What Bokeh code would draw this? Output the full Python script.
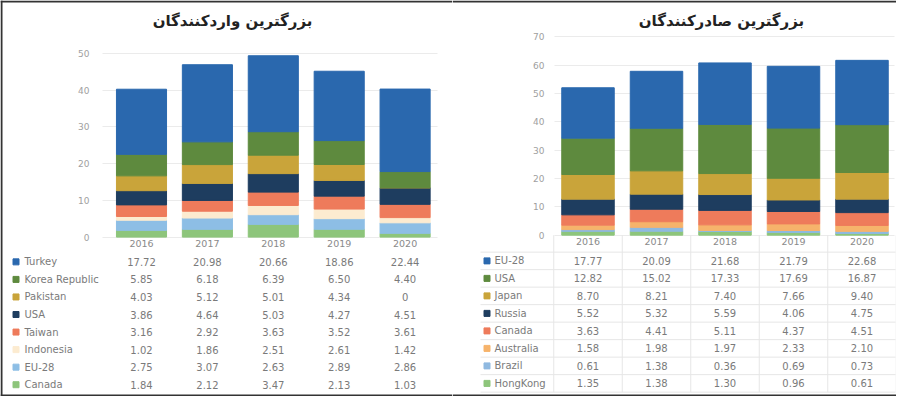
from bokeh.plotting import figure
from bokeh.models import Range1d, LinearAxis, FixedTicker, Grid, ColumnDataSource, Span
from bokeh.layouts import row
from bokeh.core.properties import value
from bokeh.embed import file_html
from bokeh.resources import INLINE

# ---------------- data ----------------
years = ["2016", "2017", "2018", "2019", "2020"]

imp_title = "بزرگترین واردکنندگان"
imp_names = ["Turkey", "Korea Republic", "Pakistan", "USA", "Taiwan", "Indonesia", "EU-28", "Canada"]
imp_turkey = [17.72, 20.98, 20.66, 18.86, 22.44]
imp_korea = [5.85, 6.18, 6.39, 6.50, 4.40]
imp_pakistan = [4.03, 5.12, 5.01, 4.34, 0]
imp_usa = [3.86, 4.64, 5.03, 4.27, 4.51]
imp_taiwan = [3.16, 2.92, 3.63, 3.52, 3.61]
imp_indonesia = [1.02, 1.86, 2.51, 2.61, 1.42]
imp_eu28 = [2.75, 3.07, 2.63, 2.89, 2.86]
imp_canada = [1.84, 2.12, 3.47, 2.13, 1.03]
imp_yticks = [0, 10, 20, 30, 40, 50]

exp_title = "بزرگترین صادرکنندگان"
exp_names = ["EU-28", "USA", "Japan", "Russia", "Canada", "Australia", "Brazil", "HongKong"]
exp_eu28 = [17.77, 20.09, 21.68, 21.79, 22.68]
exp_usa = [12.82, 15.02, 17.33, 17.69, 16.87]
exp_japan = [8.70, 8.21, 7.40, 7.66, 9.40]
exp_russia = [5.52, 5.32, 5.59, 4.06, 4.75]
exp_canada = [3.63, 4.41, 5.11, 4.37, 4.51]
exp_australia = [1.58, 1.98, 1.97, 2.33, 2.10]
exp_brazil = [0.61, 1.38, 0.36, 0.69, 0.73]
exp_hongkong = [1.35, 1.38, 1.30, 0.96, 0.61]
exp_yticks = [0, 10, 20, 30, 40, 50, 60, 70]

imp_series = [imp_turkey, imp_korea, imp_pakistan, imp_usa, imp_taiwan, imp_indonesia, imp_eu28, imp_canada]
exp_series = [exp_eu28, exp_usa, exp_japan, exp_russia, exp_canada, exp_australia, exp_brazil, exp_hongkong]

# ---------------- style ----------------
imp_colors = ["#2A68AE", "#5E8A3E", "#C9A43A", "#1E3D5F", "#EE7B5B", "#FCEBD0", "#8DBEE5", "#8DC57B"]
exp_colors = ["#2A68AE", "#5E8A3E", "#C9A43A", "#1E3D5F", "#EE7B5B", "#F6B36B", "#8FB9E0", "#8DC57B"]

FONT = "DejaVu Sans"
PAGE_TOP = 8
H = 396
SY = H / 405.0


def Y(ry):
    return PAGE_TOP + (ry - 6) * SY


def fmt(v):
    return "0" if v == 0 else "%.2f" % v


def panel(title, names, series, yticks, colors, cfg):
    left, width = cfg["left"], cfg["width"]
    xc0, dx = cfg["xc0"], cfg["dx"]
    y0 = Y(cfg["zero"])
    k = (cfg["zero"] - cfg["top_y"]) / yticks[-1] * SY

    def dxp(px):
        return (px - xc0) / dx

    def dyp(py):
        return (y0 - py) / k

    p = figure(width=width, height=H,
               x_range=Range1d(dxp(left), dxp(left + width)),
               y_range=Range1d(dyp(PAGE_TOP + H), dyp(PAGE_TOP)),
               x_axis_type=None, y_axis_type=None,
               toolbar_location=None, output_backend="svg",
               min_border=0, outline_line_color=None,
               background_fill_color="white", border_fill_color="white")

    # grid lines
    gx0, gx1 = dxp(cfg["grid_x0"]), dxp(cfg["grid_x1"])
    if "cross_bounds" in Grid.properties():
        g = Grid(dimension=1, ticker=FixedTicker(ticks=yticks), cross_bounds=(gx0, gx1),
                 grid_line_color="#ebebeb", grid_line_width=1)
        p.add_layout(g)
    else:
        p.segment(x0=[gx0] * len(yticks), x1=[gx1] * len(yticks), y0=yticks, y1=yticks,
                  line_color="#ebebeb", line_width=1, level="underlay")

    # table grid (right panel only)
    if cfg.get("table_lines"):
        nrow = len(names)
        hy = [dyp(Y(cfg["row0"] - cfg["rowstep"] / 2 + cfg["rowstep"] * i)) for i in range(nrow + 1)]
        p.segment(x0=[dxp(cfg["tab_x0"])] * len(hy), x1=[dxp(cfg["tab_x1"])] * len(hy), y0=hy, y1=hy,
                  line_color="#e6e6e6", line_width=1)
        vx = [j - 0.5 for j in range(len(years) + 1)]
        p.segment(x0=vx, x1=vx, y0=[dyp(Y(cfg["zero"]))] * len(vx), y1=[hy[-1]] * len(vx),
                  line_color="#e6e6e6", line_width=1)

    # bars
    data = {"x": list(range(len(years)))}
    for n, s in zip(names, series):
        data[n] = s
    src = ColumnDataSource(data)
    p.vbar_stack(names[::-1], x="x", width=cfg["bw"], color=colors[::-1], source=src)

    # y axis
    ya = LinearAxis(fixed_location=dxp(cfg["ylab_x"]), ticker=FixedTicker(ticks=yticks),
                    axis_line_color=None, major_tick_line_color=None, minor_tick_line_color=None,
                    major_tick_out=0, major_tick_in=0, major_label_standoff=3,
                    major_label_text_font_size="9px", major_label_text_color="#a0a0a0",
                    major_label_text_font=FONT)
    p.add_layout(ya, "left")

    # x axis (years) - doubles as table header
    xa = LinearAxis(fixed_location=0, ticker=FixedTicker(ticks=list(range(len(years)))),
                    major_label_overrides={i: yr for i, yr in enumerate(years)},
                    axis_line_color=None, major_tick_line_color=None, minor_tick_line_color=None,
                    major_tick_out=0, major_tick_in=0, major_label_standoff=cfg["xstand"],
                    major_label_text_font_size="9.5px", major_label_text_color="#8a8a8a",
                    major_label_text_font=FONT)
    p.add_layout(xa, "below")

    # title
    p.text(x=[dxp(cfg["title_x"])], y=[dyp(Y(26.5))], text=[title],
           text_align="center", text_baseline="middle", text_font=value(FONT),
           text_font_style="bold", text_font_size="15px", text_color="#222222")

    # table rows
    nrow = len(names)
    rows_y = [dyp(Y(cfg["row0"] + cfg["rowstep"] * i)) for i in range(nrow)]
    p.scatter(x=[dxp(cfg["sq_x"])] * nrow, y=rows_y, marker="square", size=6,
              color=colors, line_color=colors)
    p.text(x=[dxp(cfg["lab_x"])] * nrow, y=rows_y, text=names,
           text_align="left", text_baseline="middle", text_font=value(FONT),
           text_font_size="10px", text_color="#7a7a7a")
    xs, ys, ts = [], [], []
    for i, s in enumerate(series):
        for j, v in enumerate(s):
            xs.append(j)
            ys.append(rows_y[i])
            ts.append(fmt(v))
    p.text(x=xs, y=ys, text=ts, text_align="center", text_baseline="middle",
           text_font=value(FONT), text_font_size="10px", text_color="#7a7a7a")

    # frame lines
    p.add_layout(Span(location=dyp(PAGE_TOP + 1), dimension="width", line_color="#333333", line_width=2))
    p.add_layout(Span(location=dyp(PAGE_TOP + H - 1), dimension="width", line_color="#333333", line_width=2))
    if cfg.get("left_border"):
        p.add_layout(Span(location=dxp(left + 1), dimension="height", line_color="#333333", line_width=2))
    return p


cfg_imp = dict(left=8, width=452, xc0=149.0, dx=65.9, bw=0.76, zero=248, top_y=60,
               ylab_x=100, grid_x0=110, grid_x1=445, title_x=240, lab_x=32, sq_x=23.5,
               row0=273.3, rowstep=17.95, xstand=3, left_border=True)
cfg_exp = dict(left=460, width=444, xc0=595.5, dx=68.5, bw=0.766, zero=246, top_y=43,
               ylab_x=555, grid_x0=562, grid_x1=902, title_x=729, lab_x=502, sq_x=494.5,
               row0=272.3, rowstep=17.9, xstand=3, table_lines=True, tab_x0=488, tab_x1=903)

p_imp = panel(imp_title, imp_names, imp_series, imp_yticks, imp_colors, cfg_imp)
p_exp = panel(exp_title, exp_names, exp_series, exp_yticks, exp_colors, cfg_exp)

layout = row(p_imp, p_exp)
open("out.html", "w").write(file_html(layout, INLINE))
